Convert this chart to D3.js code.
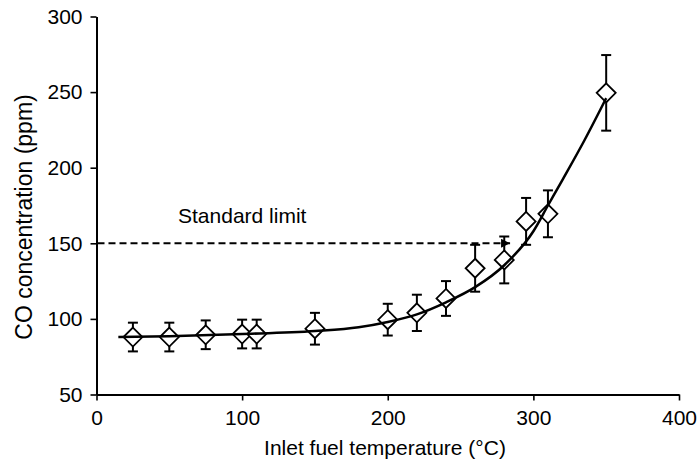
<!DOCTYPE html>
<html>
<head>
<meta charset="utf-8">
<script src="https://cdn.jsdelivr.net/npm/d3@7"></script>
<style>
  body { margin: 0; background: #fff; }
  text { font-family: "Liberation Sans", Arial, sans-serif; fill: #000; }
</style>
</head>
<body>
<div id="chart"></div>
<script>
var temps = [25, 50, 75, 100, 110, 150, 200, 220, 240, 260, 280, 295, 310, 350];
var coValues = [88, 88, 89.5, 90, 90, 93.5, 99.5, 104, 113.5, 133.5, 139, 164.5, 169.5, 249.5];
var coErrors = [9.5, 9.5, 9.5, 9.5, 9.5, 10.5, 10.5, 12, 11.5, 15.5, 15.5, 15.5, 15.5, 25];

// fitted trend line
var fitTemps = [15, 50, 100, 150, 180, 200, 220, 240, 260, 280, 300, 310, 320, 335, 350];
var fitValues = [88, 88.6, 90, 92, 94.5, 98, 103, 111, 121, 135.5, 158, 175, 192, 218, 246];

var xTicks = [0, 100, 200, 300, 400];
var yTicks = [50, 100, 150, 200, 250, 300];
var limitValue = 150;
var limitEnd = 284;

var fullWidth = 697, fullHeight = 462;

var svg = d3.select("#chart")
    .append("svg")
    .attr("width", fullWidth)
    .attr("height", fullHeight);

var xScale = d3.scaleLinear().domain([0, 400]).range([96.5, 679]);
var yScale = d3.scaleLinear().domain([50, 300]).range([394.5, 16.5]);

var data = temps.map(function(t, i) {
    return {t: t, v: coValues[i], e: coErrors[i]};
});

// axes
var xAxis = d3.axisBottom(xScale).tickValues(xTicks).tickSize(6).tickSizeOuter(0).tickPadding(10);
var yAxis = d3.axisLeft(yScale).tickValues(yTicks).tickSize(6).tickSizeOuter(0).tickPadding(8);

var gx = svg.append("g")
    .attr("class", "x-axis")
    .attr("transform", "translate(0," + yScale(50) + ")")
    .call(xAxis);
var gy = svg.append("g")
    .attr("class", "y-axis")
    .attr("transform", "translate(" + xScale(0) + ",0)")
    .call(yAxis);

[gx, gy].forEach(function(g) {
    g.select(".domain").attr("stroke", "#000").attr("stroke-width", 2);
    g.selectAll(".tick line").attr("stroke", "#000").attr("stroke-width", 1.6);
    g.selectAll(".tick text")
        .style("font-size", "21px")
        .style("font-family", "'Liberation Sans', Arial, sans-serif")
        .attr("fill", "#000");
});

// standard limit
svg.append("defs").append("marker")
    .attr("id", "arrow")
    .attr("viewBox", "0 0 10 10")
    .attr("refX", 10)
    .attr("refY", 5)
    .attr("markerWidth", 14)
    .attr("markerHeight", 9)
    .attr("markerUnits", "userSpaceOnUse")
    .attr("orient", "auto")
    .append("path")
    .attr("d", "M0,0L10,5L0,10Z")
    .attr("fill", "#000");

svg.append("line")
    .attr("x1", xScale(0) + 1)
    .attr("x2", xScale(limitEnd))
    .attr("y1", yScale(limitValue))
    .attr("y2", yScale(limitValue))
    .attr("stroke", "#000")
    .attr("stroke-width", 2)
    .attr("stroke-dasharray", "7,4")
    .attr("marker-end", "url(#arrow)");

svg.append("text")
    .attr("x", 178)
    .attr("y", 223)
    .style("font-size", "21px")
    .text("Standard limit");

// error bars
var bars = svg.append("g").attr("class", "errors")
    .selectAll("g")
    .data(data)
    .enter()
    .append("g");

bars.append("line")
    .attr("x1", function(d) { return xScale(d.t); })
    .attr("x2", function(d) { return xScale(d.t); })
    .attr("y1", function(d) { return yScale(d.v + d.e); })
    .attr("y2", function(d) { return yScale(d.v - d.e); })
    .attr("stroke", "#000")
    .attr("stroke-width", 2);

[1, -1].forEach(function(s) {
    bars.append("line")
        .attr("x1", function(d) { return xScale(d.t) - 5; })
        .attr("x2", function(d) { return xScale(d.t) + 5; })
        .attr("y1", function(d) { return yScale(d.v + s * d.e); })
        .attr("y2", function(d) { return yScale(d.v + s * d.e); })
        .attr("stroke", "#000")
        .attr("stroke-width", 2);
});

// diamonds
svg.append("g").attr("class", "points")
    .selectAll("path")
    .data(data)
    .enter()
    .append("path")
    .attr("d", function(d) {
        var x = xScale(d.t), y = yScale(d.v), r = 9.5;
        return "M" + x + "," + (y - r) + "L" + (x + r) + "," + y +
               "L" + x + "," + (y + r) + "L" + (x - r) + "," + y + "Z";
    })
    .attr("fill", "#fff")
    .attr("stroke", "#000")
    .attr("stroke-width", 1.8);

// trend curve
var line = d3.line()
    .x(function(d) { return xScale(d[0]); })
    .y(function(d) { return yScale(d[1]); })
    .curve(d3.curveMonotoneX);

svg.append("path")
    .datum(fitTemps.map(function(t, i) { return [t, fitValues[i]]; }))
    .attr("d", line)
    .attr("fill", "none")
    .attr("stroke", "#000")
    .attr("stroke-width", 2.5);

// axis titles
svg.append("text")
    .attr("x", 385)
    .attr("y", 455)
    .style("text-anchor", "middle")
    .style("font-size", "21px")
    .text("Inlet fuel temperature (°C)");

svg.append("text")
    .attr("transform", "translate(32,217) rotate(-90)")
    .style("text-anchor", "middle")
    .style("font-size", "23px")
    .text("CO concentration (ppm)");
</script>
</body>
</html>
